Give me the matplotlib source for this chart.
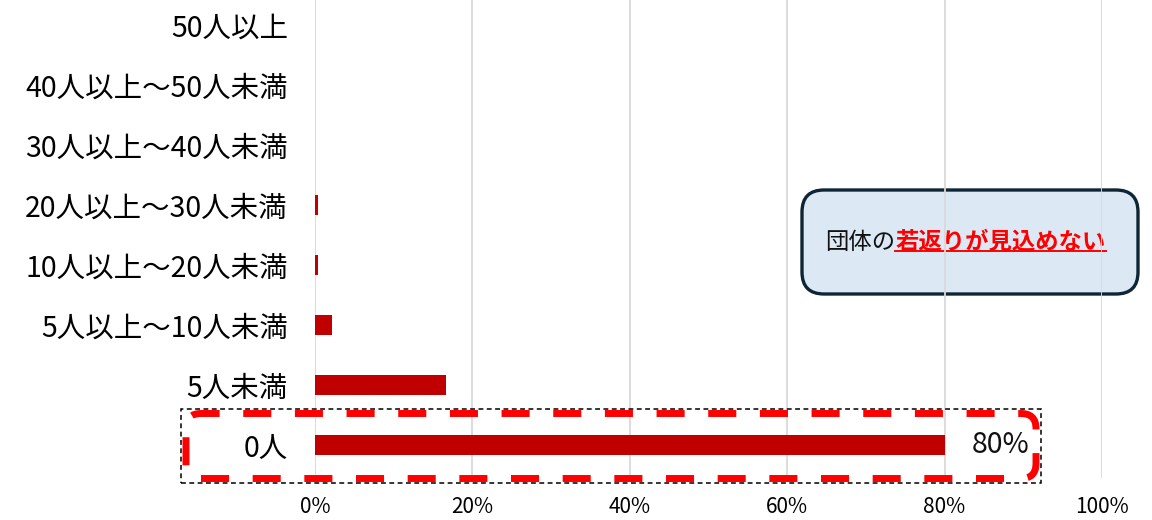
import matplotlib
matplotlib.use("Agg")
import matplotlib.pyplot as plt
from matplotlib.patches import FancyBboxPatch, Rectangle
from matplotlib.lines import Line2D

plt.rcParams['font.family'] = ['Noto Sans CJK JP', 'DejaVu Sans']
plt.rcParams['lines.scale_dashes'] = False

# Member-count bands (bottom to top) and share of groups in each band (%)
categories = ['0人', '5人未満', '5人以上～10人未満', '10人以上～20人未満',
              '20人以上～30人未満', '30人以上～40人未満', '40人以上～50人未満', '50人以上']
shares = [80.0, 16.7, 2.1, 0.4, 0.4, 0.0, 0.0, 0.0]
x_ticks = [0, 20, 40, 60, 80, 100]
x_tick_labels = ['0%', '20%', '40%', '60%', '80%', '100%']
highlight_label = '80%'
note_plain = '団体の'
note_emph = '若返りが見込めない'

W, H = 1152, 520
fig = plt.figure(figsize=(W / 100, H / 100), dpi=100)
fig.patch.set_facecolor('white')


def fx(px):
    return px / W


def fy(py):
    return 1 - py / H


ax = fig.add_axes([fx(315), fy(478), fx(1102) - fx(315), fy(0) - fy(478)])
ax.patch.set_visible(False)

ypos = list(range(len(categories)))
ax.barh(ypos, shares, height=0.345, color='#c00000', zorder=3)
ax.set_xlim(0, 100)
ax.set_ylim(-0.55, len(categories) - 0.58)
ax.set_xticks(x_ticks)
ax.set_xticklabels(x_tick_labels, fontsize=15)
ax.set_yticks(ypos)
ax.set_yticklabels(categories, fontsize=20.5)
ax.tick_params(axis='both', length=0)
ax.tick_params(axis='y', pad=19.5)
ax.tick_params(axis='x', pad=13)
for s in ax.spines.values():
    s.set_visible(False)
ax.grid(axis='x', color='#d9d9d9', linewidth=1.3, zorder=1)
ax.grid(axis='y', visible=False)

# value label for the 0-member bar
ax.text(shares[0] + 3.5, ypos[0], highlight_label, fontsize=20.5,
        va='center', ha='left', color='#111111', zorder=5)

# emphasis frames around the 0-member row
fig.add_artist(Rectangle((fx(181), fy(483)), fx(1041) - fx(181), fy(409) - fy(483),
                         transform=fig.transFigure, fill=False, edgecolor='black',
                         linewidth=1.1, linestyle=(0, (3.5, 2.5)), zorder=4))
fig.add_artist(FancyBboxPatch((fx(186), fy(478.5)), fx(1036) - fx(186), fy(413.5) - fy(478.5),
                              boxstyle='round,pad=0,rounding_size=%f' % fx(15),
                              mutation_aspect=W / H, transform=fig.transFigure,
                              fill=False, edgecolor='#ff0000', linewidth=5,
                              linestyle=(0, (20.2, 17.0)), zorder=4))

# callout box
fig.add_artist(FancyBboxPatch((fx(802), fy(294)), fx(1138) - fx(802), fy(190) - fy(294),
                              boxstyle='round,pad=0,rounding_size=%f' % fx(22),
                              mutation_aspect=W / H, transform=fig.transFigure,
                              facecolor='#dce9f5', edgecolor='#0d2535', linewidth=2.4,
                              zorder=-2))
base_y = fy(249)
t1 = fig.text(fx(825), base_y, note_plain, fontsize=16.8, color='#111111',
              va='baseline', ha='left', zorder=-1)
fig.canvas.draw()
r = fig.canvas.get_renderer()
bb1 = t1.get_window_extent(r)
t2 = fig.text(bb1.x1 / W, base_y, note_emph, fontsize=16.8, color='#ff0000',
              fontweight='bold', va='baseline', ha='left', zorder=-1)
fig.canvas.draw()
bb2 = t2.get_window_extent(r)
uy = base_y - 2 / H
fig.add_artist(Line2D([bb2.x0 / W, bb2.x1 / W], [uy, uy], transform=fig.transFigure,
                      color='#ff0000', linewidth=1.4, zorder=-1))

fig.savefig('out.png', dpi=100, facecolor='white')
